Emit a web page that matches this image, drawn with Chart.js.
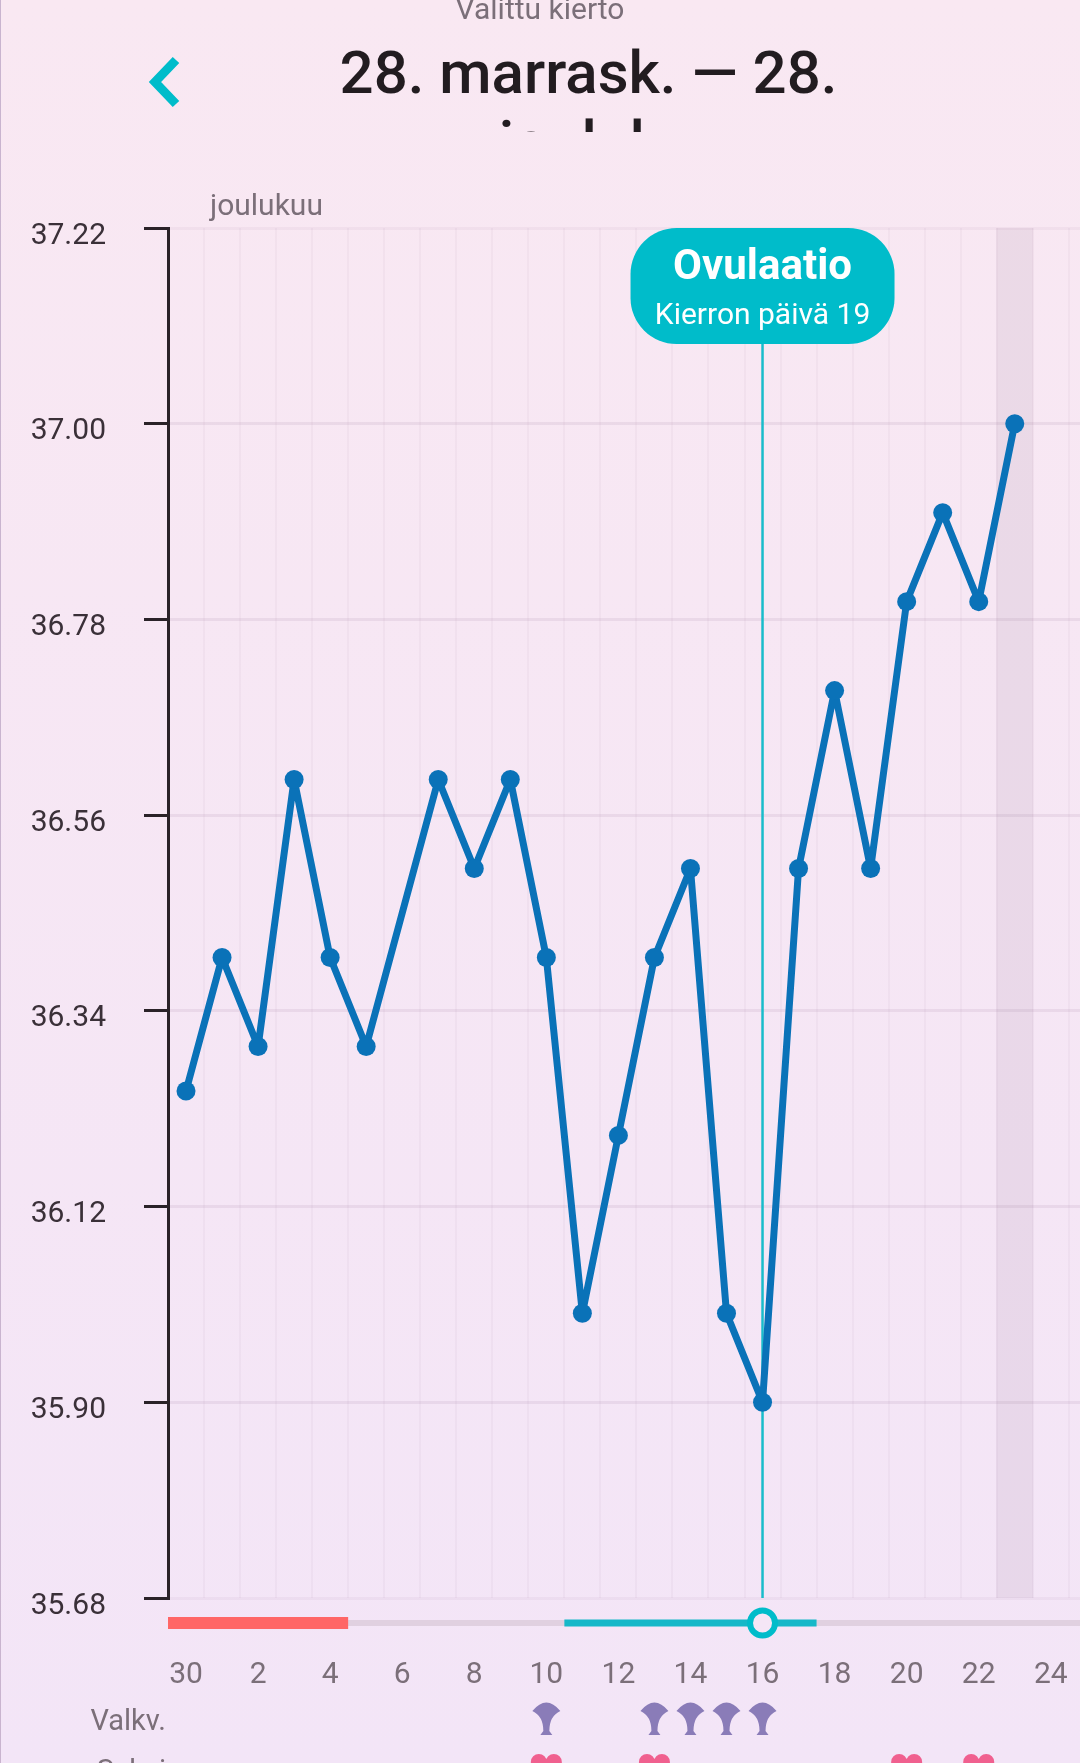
<!DOCTYPE html>
<html lang="fi">
<head>
<meta charset="utf-8">
<title>Valittu kierto</title>
<script src="https://cdn.jsdelivr.net/npm/chart.js@4"></script>
<style>
  html, body { margin: 0; padding: 0; }
  body {
    position: relative; width: 1080px; height: 1763px; overflow: hidden;
    background: linear-gradient(#f9e8f2, #f3e5f7);
    font-family: Roboto, sans-serif;
  }
  body::before { content: ''; position: absolute; left: 0; top: 0; bottom: 0; width: 1px; background: #c9b4cf; z-index: 2; }
  canvas { position: absolute; left: 0; top: 0; }
  .over { position: absolute; z-index: 1; }
  #subtitle { left: 0; width: 1080px; top: -8px; text-align: center; font-size: 30px; line-height: 34px; color: #7b6f79; }
  #title { left: 321px; width: 535px; top: 38px; height: 94px; overflow: hidden; text-align: center; font-size: 60px; line-height: 70px; font-weight: 500; color: #221c20; }
  #title span { display: block; margin-left: 50px; }
  #month { left: 210px; top: 188px; font-size: 30px; line-height: 34px; color: #7b6f79; }
  #back { left: 145px; top: 52px; }
</style>
</head>
<body>
<div class="over" id="subtitle">Valittu kierto</div>
<svg class="over" id="back" width="40" height="60" viewBox="0 0 40 60"><path d="M31 8 L10 30 L31 52" fill="none" stroke="#00bcca" stroke-width="9"/></svg>
<div class="over" id="title">28. marrask. — 28. <span>joulukuu</span></div>
<div class="over" id="month">joulukuu</div>
<canvas id="cycleChart" width="1146" height="1763"></canvas>
<script>
// Chart data
const dayLabels = ['30', '1', '2', '3', '4', '5', '6', '7', '8', '9', '10', '11', '12', '13', '14', '15', '16', '17', '18', '19', '20', '21', '22', '23', '24', '25'];
const temperatures = [36.25, 36.4, 36.3, 36.6, 36.4, 36.3, null, 36.6, 36.5, 36.6, 36.4, 36.0, 36.2, 36.4, 36.5, 36.0, 35.9, 36.5, 36.7, 36.5, 36.8, 36.9, 36.8, 37.0];
const tempTicks = [35.68, 35.90, 36.12, 36.34, 36.56, 36.78, 37.00, 37.22];
const shadedDays = [23];
const periodDays = [0, 1, 2, 3, 4];
const fertileDays = [11, 12, 13, 14, 15, 16, 17];
const ovulationDay = 16;
const mucusDays = [10, 13, 14, 15, 16];
const sexDays = [10, 13, 20, 22];

// Colors
const lineColor = '#0a72b8';
const tealColor = '#00bcca';
const axisColor = '#2a2228';
const labelColor = '#7b6f79';

function drawFan(ctx, x, y) {
    ctx.fillStyle = '#8a7cb8';
    ctx.beginPath();
    ctx.moveTo(x - 14, y + 8);
    ctx.quadraticCurveTo(x, y - 9, x + 14, y + 8);
    ctx.quadraticCurveTo(x + 3, y + 13, x + 3, y + 28);
    ctx.lineTo(x + 6, y + 32);
    ctx.lineTo(x - 6, y + 32);
    ctx.lineTo(x - 3, y + 28);
    ctx.quadraticCurveTo(x - 3, y + 13, x - 14, y + 8);
    ctx.fill();
}

function drawHeart(ctx, x, y) {
    ctx.fillStyle = '#f0608f';
    ctx.beginPath();
    ctx.arc(x - 7.5, y + 8, 8, 0, Math.PI * 2);
    ctx.arc(x + 7.5, y + 8, 8, 0, Math.PI * 2);
    ctx.fill();
    ctx.beginPath();
    ctx.moveTo(x - 15, y + 10);
    ctx.lineTo(x, y + 28);
    ctx.lineTo(x + 15, y + 10);
    ctx.fill();
}

// Ovulation line, cycle strip and symbol rows
const cycleExtras = {
    id: 'cycleExtras',
    beforeDatasetsDraw(chart) {
        const { ctx, chartArea, scales } = chart;
        const x = scales.x.getPixelForValue(ovulationDay);
        ctx.save();
        ctx.strokeStyle = '#19bccb';
        ctx.lineWidth = 2.5;
        ctx.beginPath();
        ctx.moveTo(x, chartArea.top + 100);
        ctx.lineTo(x, chartArea.bottom);
        ctx.stroke();
        ctx.restore();
    },
    afterDraw(chart) {
        const { ctx, chartArea, scales } = chart;
        const xs = scales.x;
        const half = 18;
        const stripY = chartArea.bottom + 25;
        ctx.save();

        ctx.fillStyle = '#e0d0e0';
        ctx.fillRect(chartArea.left, stripY - 3, chart.width - chartArea.left, 6);
        ctx.fillStyle = '#ff6666';
        const periodStart = xs.getPixelForValue(periodDays[0]) - half;
        ctx.fillRect(periodStart, stripY - 6, xs.getPixelForValue(periodDays[periodDays.length - 1]) + half - periodStart, 12);
        ctx.fillStyle = '#15b8c8';
        const fertileStart = xs.getPixelForValue(fertileDays[0]) - half;
        ctx.fillRect(fertileStart, stripY - 3.5, xs.getPixelForValue(fertileDays[fertileDays.length - 1]) + half - fertileStart, 7);

        const ovX = xs.getPixelForValue(ovulationDay);
        ctx.beginPath();
        ctx.arc(ovX, stripY, 12.5, 0, Math.PI * 2);
        ctx.fillStyle = '#f5e6f6';
        ctx.fill();
        ctx.lineWidth = 6;
        ctx.strokeStyle = tealColor;
        ctx.stroke();

        // Callout above the ovulation line
        ctx.fillStyle = tealColor;
        ctx.beginPath();
        ctx.roundRect(ovX - 132, chartArea.top, 264, 116, 46);
        ctx.fill();
        ctx.fillStyle = '#ffffff';
        ctx.textAlign = 'center';
        ctx.textBaseline = 'middle';
        ctx.font = 'bold 42px Roboto';
        ctx.fillText('Ovulaatio', ovX, chartArea.top + 40);
        ctx.font = '30px Roboto';
        ctx.fillText('Kierron päivä 19', ovX, chartArea.top + 88);

        // Symbol rows
        ctx.fillStyle = labelColor;
        ctx.textAlign = 'right';
        ctx.font = '29px Roboto';
        ctx.fillText('Valkv.', 166, chartArea.bottom + 125);
        ctx.fillText('Seksi', 166, chartArea.bottom + 175);
        mucusDays.forEach(function(day) {
            drawFan(ctx, xs.getPixelForValue(day), chartArea.bottom + 105);
        });
        sexDays.forEach(function(day) {
            drawHeart(ctx, xs.getPixelForValue(day), chartArea.bottom + 156);
        });
        ctx.restore();
    }
};

new Chart(document.getElementById('cycleChart').getContext('2d'), {
    type: 'bar',
    plugins: [cycleExtras],
    data: {
        labels: dayLabels,
        datasets: [{
            type: 'line',
            data: temperatures,
            order: 1,
            borderColor: lineColor,
            borderWidth: 7,
            borderJoinStyle: 'round',
            tension: 0,
            spanGaps: true,
            pointRadius: 9.5,
            pointBackgroundColor: lineColor,
            pointBorderWidth: 0
        }, {
            type: 'bar',
            data: dayLabels.map(function(label, i) {
                return shadedDays.includes(i) ? [tempTicks[0], tempTicks[tempTicks.length - 1]] : null;
            }),
            order: 2,
            backgroundColor: 'rgba(130, 100, 130, 0.10)',
            barPercentage: 1,
            categoryPercentage: 1
        }]
    },
    options: {
        responsive: false,
        animation: false,
        layout: { padding: { top: 228, left: 0, right: 0, bottom: 0 } },
        plugins: {
            legend: { display: false },
            tooltip: { enabled: false }
        },
        scales: {
            x: {
                type: 'category',
                offset: true,
                afterFit: function(scale) { scale.height = 165; },
                grid: {
                    offset: true,
                    color: 'rgba(130, 90, 130, 0.05)',
                    lineWidth: 2,
                    drawTicks: false
                },
                border: { display: false },
                ticks: {
                    autoSkip: false,
                    maxRotation: 0,
                    padding: 59,
                    color: labelColor,
                    font: { family: 'Roboto', size: 30 },
                    callback: function(value, index) {
                        return index % 2 === 0 ? this.getLabelForValue(value) : '';
                    }
                }
            },
            y: {
                min: tempTicks[0],
                max: tempTicks[tempTicks.length - 1],
                afterFit: function(scale) { scale.width = 168; },
                afterBuildTicks: function(scale) {
                    scale.ticks = tempTicks.map(function(v) { return { value: v }; });
                },
                grid: {
                    color: function(context) {
                        const v = context.tick && context.tick.value;
                        return v === tempTicks[0] || v === tempTicks[tempTicks.length - 1] ? 'rgba(130, 90, 130, 0.06)' : 'rgba(130, 90, 130, 0.10)';
                    },
                    lineWidth: 3,
                    tickColor: axisColor,
                    tickLength: 24,
                    tickWidth: 3
                },
                border: { color: axisColor, width: 3 },
                ticks: {
                    padding: 38,
                    labelOffset: 8,
                    color: '#3a3038',
                    font: { family: 'Roboto', size: 30 },
                    callback: function(value) { return value.toFixed(2); }
                }
            }
        }
    }
});
</script>
</body>
</html>
